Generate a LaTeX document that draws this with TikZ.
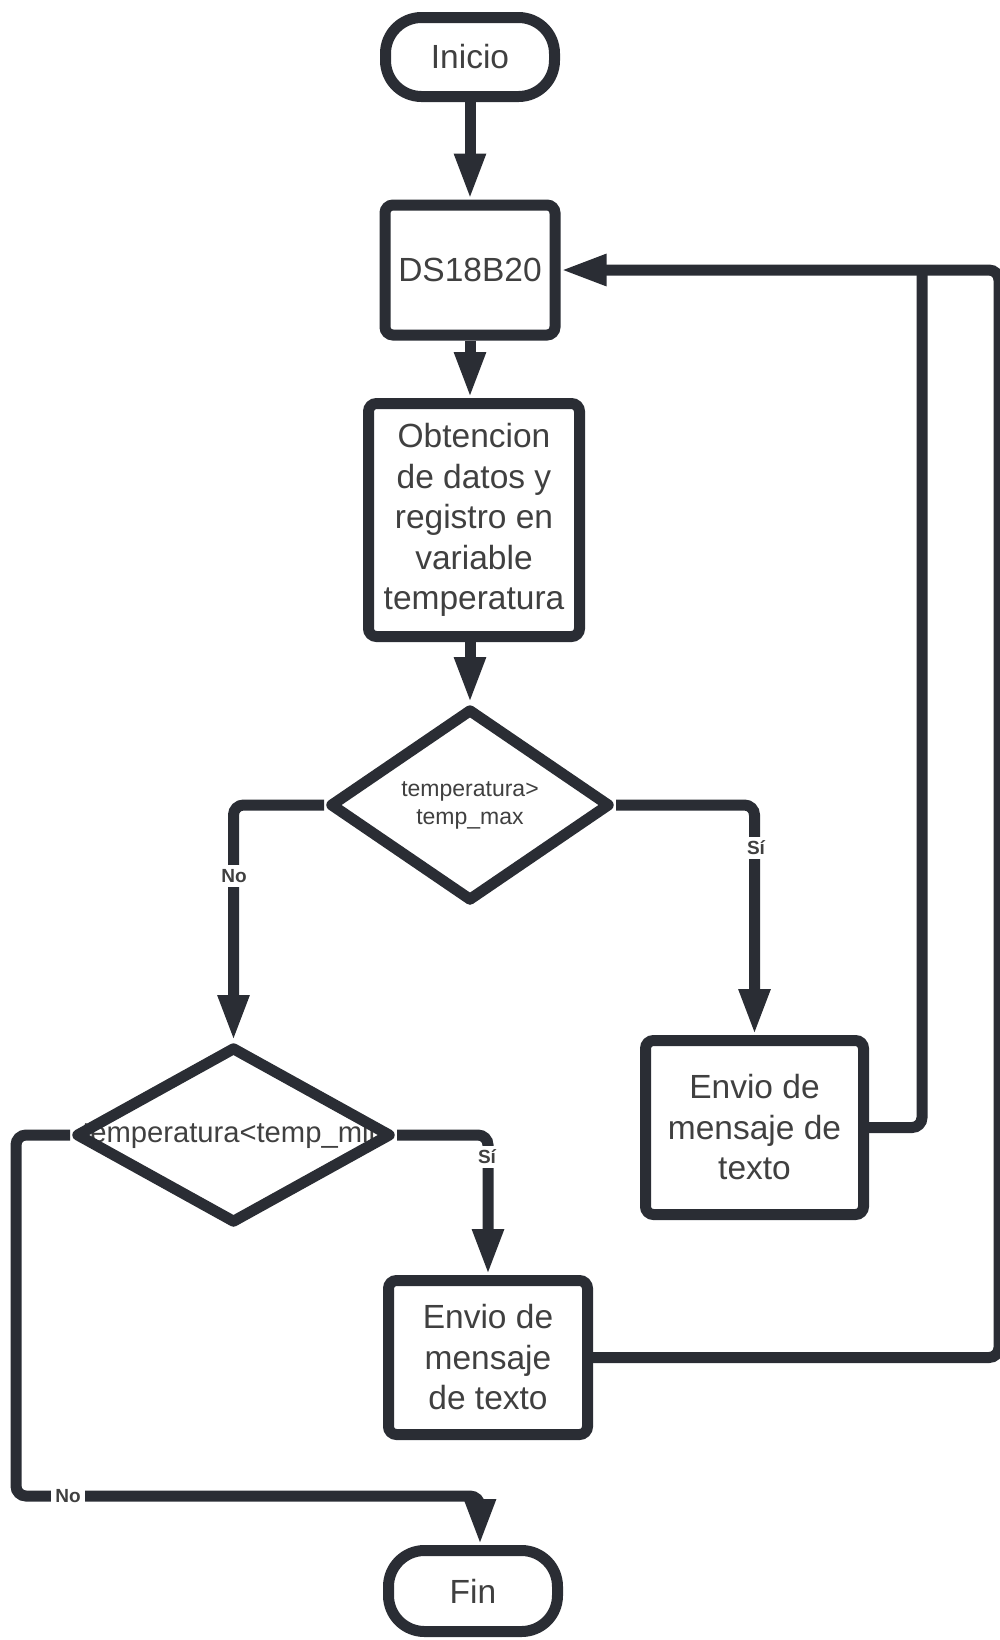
\documentclass[tikz,border=0pt]{standalone}
\usepackage{fontspec}
\setmainfont{Liberation Sans}
\usetikzlibrary{shapes.geometric,arrows.meta}
\definecolor{ink}{HTML}{2A2D34}
\definecolor{txt}{HTML}{404040}
\begin{document}
\begin{tikzpicture}[x=0.5pt,y=-0.5pt,
  base/.style={draw=ink, line width=5.5pt, fill=white, text=txt, inner sep=0pt,
    align=center, font=\fontsize{16.75pt}{20.25pt}\selectfont},
  term/.style={base, rounded corners=18pt},
  proc/.style={base, rounded corners=4pt},
  cond/.style={base, diamond, line join=round, font=\fontsize{11.5pt}{14pt}\selectfont},
  link/.style={draw=ink, line width=5.5pt, rounded corners=5pt},
  arr/.style={link, -{Triangle[length=23pt,width=14.5pt]}},
  lab/.style={fill=white, text=txt, inner sep=2pt, font=\bfseries\fontsize{9.5pt}{11pt}\selectfont}
]
\useasboundingbox (0,0) rectangle (1000,1640);

% blocks
\node[term, minimum width=84.5pt, minimum height=39.5pt] (start) at (470,57) {Inicio};
\node[proc, minimum width=85pt, minimum height=65pt] (ds) at (470,270) {DS18B20};
\node[proc, minimum width=105.5pt, minimum height=116.5pt] (obt) at (474,520)
  {Obtencion\\de datos y\\registro en\\variable\\temperatura};
\node[cond, minimum width=140.5pt, minimum height=96.5pt] (d1) at (470,805)
  {temperatura>\\temp\_max};
% the condition text sits under the outline of its diamond
\node[text=txt, inner sep=0pt, font=\fontsize{14.6pt}{18pt}\selectfont] (d2txt) at (233.5,1135)
  {temperatura<temp\_min};
\node[cond, fill=none, minimum width=158pt, minimum height=88.5pt] (d2) at (233.5,1135) {};
\node[proc, minimum width=109pt, minimum height=87pt] (e1) at (754.5,1127.5)
  {Envio de\\mensaje de\\texto};
\node[proc, minimum width=99.5pt, minimum height=77pt] (e2) at (488,1357.5)
  {Envio de\\mensaje\\de texto};
\node[term, minimum width=84.5pt, minimum height=40.5pt] (fin) at (473,1591) {Fin};

% return-loop bends
\coordinate (outerTop) at (999,270);
\coordinate (outerBot) at (999,1357.5);
\coordinate (innerTop) at (922,270);
\coordinate (innerBot) at (922,1127.5);
\coordinate (noTop) at (16,1135);
\coordinate (noBot) at (16,1496);

% main flow
\draw[arr] (start) -- (ds);
\draw[arr] (ds.south) -- (ds.south |- obt.north);
\draw[arr] (obt.south -| d1.north) -- (d1.north);
\draw[arr] (d1.west) -| (d2.north);
\draw[arr] (d1.east) -| (e1.north);
\draw[arr] (d2.east) -| (e2.north);
\draw[arr] (d2.west) -- (noTop) -- (noBot) -| ([xshift=3.5pt]fin.north);

% back to the sensor
\draw[arr] (e2.east) -- (outerBot) -- (outerTop) -- (ds.east);
\draw[link] (e1.east) -- (innerBot) -- (innerTop);

% branch labels
\node[lab] (no1) at (234,876) {No};
\node[lab] (si1) at (756,848) {Sí};
\node[lab] (si2) at (487,1157) {Sí};
\node[lab] (no2) at (68,1496) {No};
\end{tikzpicture}
\end{document}
